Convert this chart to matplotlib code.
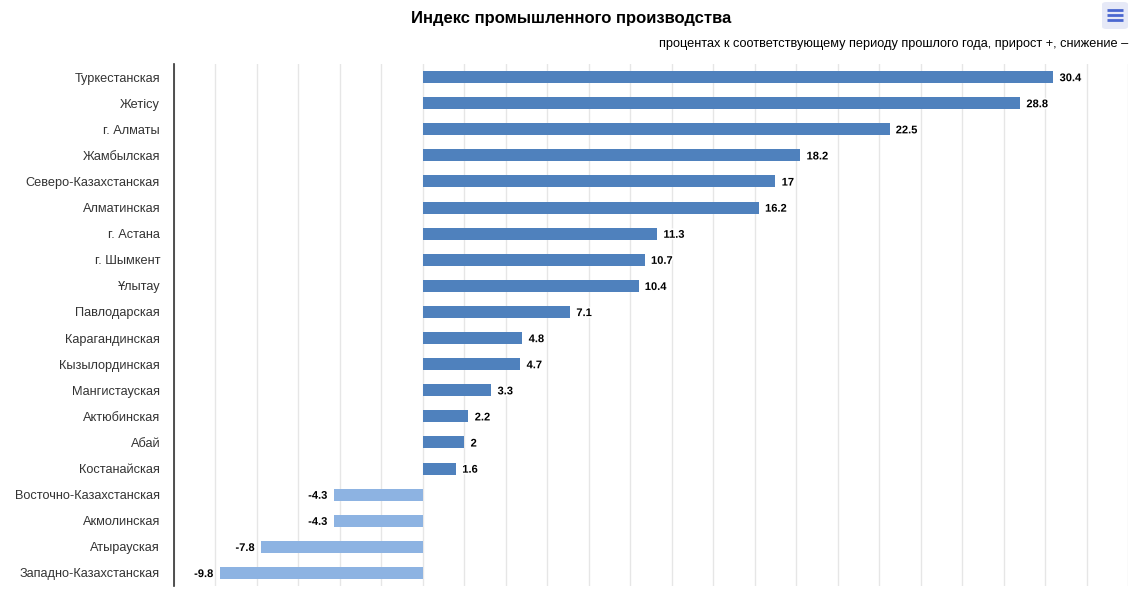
import matplotlib.pyplot as plt
import matplotlib.patheffects as pe
from matplotlib.patches import FancyBboxPatch
from matplotlib.lines import Line2D

plt.rcParams["font.family"] = ["Liberation Sans", "DejaVu Sans"]

regions = [
    "Туркестанская", "Жетісу", "г. Алматы", "Жамбылская",
    "Северо-Казахстанская", "Алматинская", "г. Астана", "г. Шымкент",
    "Ұлытау", "Павлодарская", "Карагандинская", "Кызылординская",
    "Мангистауская", "Актюбинская", "Абай", "Костанайская",
    "Восточно-Казахстанская", "Акмолинская", "Атырауская",
    "Западно-Казахстанская",
]
values = [30.4, 28.8, 22.5, 18.2, 17, 16.2, 11.3, 10.7, 10.4, 7.1,
          4.8, 4.7, 3.3, 2.2, 2, 1.6, -4.3, -4.3, -7.8, -9.8]

title = "Индекс промышленного производства"
subtitle = "процентах к соответствующему периоду прошлого года, прирост +, снижение –"

W, H = 1142, 593
fig = plt.figure(figsize=(W / 100, H / 100), dpi=100)
ax = fig.add_axes([174 / W, 1 - 586 / H, (1128 - 174) / W, (586 - 64) / H])

pos_color = "#4f81bd"
neg_color = "#8db3e2"
colors = [pos_color if v >= 0 else neg_color for v in values]
ypos = list(range(len(regions)))

ax.barh(ypos, values, height=0.46, color=colors, zorder=3)

outline = [pe.withStroke(linewidth=2.5, foreground="white")]
for y, v in zip(ypos, values):
    txt = f"{v:g}"
    if v >= 0:
        ax.annotate(txt, (v, y), xytext=(4.5, -0.8), textcoords="offset points",
                    ha="left", va="center", fontsize=8, fontweight="bold",
                    color="black", path_effects=outline, zorder=4)
    else:
        ax.annotate(txt, (v, y), xytext=(-4.5, -0.8), textcoords="offset points",
                    ha="right", va="center", fontsize=8, fontweight="bold",
                    color="black", path_effects=outline, zorder=4)

ax.set_xlim(-12, 34)
ax.set_ylim(len(regions) - 0.5, -0.5)
ax.set_xticks(range(-12, 35, 2))
ax.set_xticklabels([])
ax.tick_params(axis="x", length=0)
ax.set_yticks(ypos)
ax.set_yticklabels(regions, fontsize=9.2, color="#333333")
ax.tick_params(axis="y", length=0, pad=10)
ax.grid(axis="x", color="#e6e6e6", linewidth=1, zorder=0)
for side in ["top", "right", "bottom"]:
    ax.spines[side].set_visible(False)
ax.spines["left"].set_color("#333333")
ax.spines["left"].set_linewidth(1.2)

fig.text(571 / W, 1 - 18 / H, title, ha="center", va="center",
         fontsize=12, fontweight="bold", color="#000000")
fig.text(1128 / W, 1 - 44 / H, subtitle, ha="right", va="center",
         fontsize=9.15, color="#000000")

# menu button
box = FancyBboxPatch((1102 / W, 1 - 29 / H), 26 / W, 27 / H,
                     boxstyle="round,pad=0,rounding_size=0.004",
                     transform=fig.transFigure, facecolor="#e6e9f7",
                     edgecolor="none")
fig.patches.append(box)
for yy in (10, 15, 20):
    fig.lines.append(Line2D([1107 / W, 1123 / W], [1 - yy / H, 1 - yy / H],
                            transform=fig.transFigure, color="#4a67d0",
                            linewidth=2, solid_capstyle="butt"))

fig.savefig("out.png", dpi=100)
